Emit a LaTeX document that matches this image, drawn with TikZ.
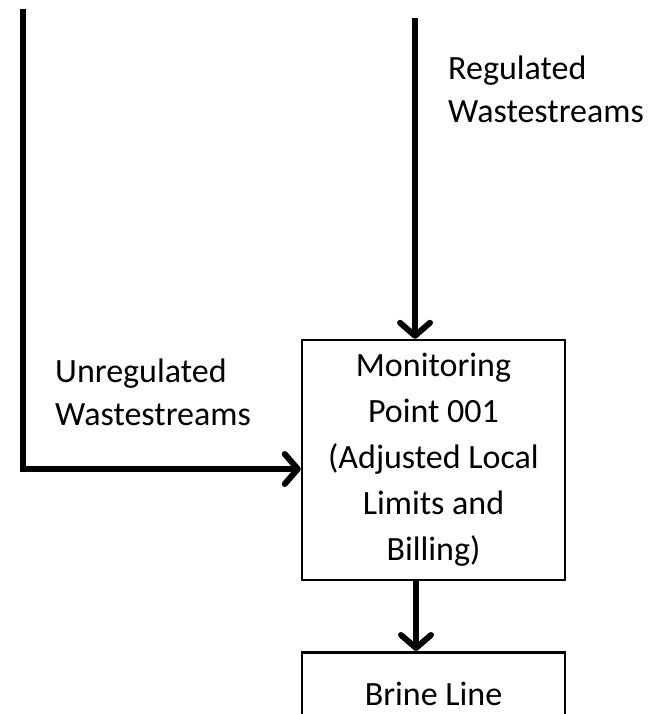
\documentclass[tikz,border=0pt]{standalone}
\usepackage{fontspec}
\setmainfont{Carlito}
\usetikzlibrary{arrows.meta}
\usetikzlibrary{positioning}

\begin{document}
\begin{tikzpicture}[
					x=1pt, y=-1pt,
					block/.style={draw, line width=2.5pt, align=center, minimum width=263pt, inner sep=0pt, font=\fontsize{34}{46}\selectfont},
					label/.style={align=left, inner sep=0pt, font=\fontsize{34}{43}\selectfont},
					flow/.style={line width=6pt, -{Straight Barb[length=13pt, width=30pt, line cap=round, line join=round]}}
				]
					\useasboundingbox (0,0) rectangle (656,714);
					\clip (0,0) rectangle (656,714);
					\node[block, minimum height=240pt] (mon) at (433.5,460) {Monitoring\\Point 001\\(Adjusted Local\\Limits and\\Billing)};
					\node[block, anchor=north, minimum height=84pt] (brine) at (433.5,651) {Brine Line};
					\coordinate (unreg) at (22.5,9);
					\coordinate (reg) at (415,18);
					\node[label, anchor=north west] (unreglabel) at (55,359) {Unregulated\\Wastestreams};
					\node[label, anchor=north west] (reglabel) at (448,56) {Regulated\\Wastestreams};
					\draw[flow] (unreg) |- ([yshift=-9pt]mon.west);
					\draw[flow] (reg) -- (reg |- mon.north);
					\draw[flow] ([xshift=-17.5pt]mon.south) -- ([xshift=-17.5pt]brine.north);
				\end{tikzpicture}
\end{document}
